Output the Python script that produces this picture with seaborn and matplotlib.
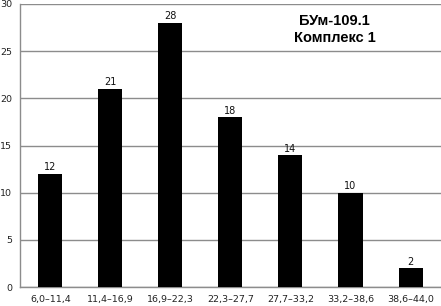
import numpy as np
import pandas as pd
import matplotlib.pyplot as plt
import seaborn as sns

# ── Data ──────────────────────────────────────────────────────
categories = ['6,0–11,4', '11,4–16,9', '16,9–22,3', '22,3–27,7',
              '27,7–33,2', '33,2–38,6', '38,6–44,0']
counts = [12, 21, 28, 18, 14, 10, 2]
y_ticks = [0, 5, 10, 15, 20, 25, 30]

df = pd.DataFrame({'interval': categories, 'count': counts})

# ── Plot ──────────────────────────────────────────────────────
sns.set_style('white')
plt.rcParams['font.family'] = ['DejaVu Sans']

fig = plt.figure(figsize=(4.41, 3.06), dpi=100)
ax = fig.add_axes([0.046, 0.062, 0.953, 0.925])

sns.barplot(data=df, x='interval', y='count', color='black',
            width=0.4, saturation=1, linewidth=0, ax=ax, zorder=3)

ax.set_ylim(0, 30)
ax.set_xlim(-0.5, len(categories) - 0.5)
ax.set_yticks(y_ticks)
ax.yaxis.grid(True, color='#8c8c8c', linewidth=1.0, zorder=0)
ax.set_axisbelow(True)

for s in ['top', 'right']:
    ax.spines[s].set_visible(False)
for s in ['left', 'bottom']:
    ax.spines[s].set_color('#8c8c8c')
    ax.spines[s].set_linewidth(1.0)

# minor ticks between categories on x
ax.set_xticks(np.arange(len(categories) + 1) - 0.5, minor=True)
ax.tick_params(axis='x', which='major', length=0, labelsize=6.8, pad=6,
               labelcolor='#222222')
ax.tick_params(axis='x', which='minor', length=4, color='#8c8c8c', width=1)
ax.tick_params(axis='y', length=4, color='#8c8c8c', labelsize=6.8, pad=2,
               labelcolor='#222222')
ax.set_xlabel('')
ax.set_ylabel('')

for i, v in enumerate(counts):
    ax.text(i, v + 0.15, str(v), ha='center', va='bottom', fontsize=7,
            color='#111111')

ax.text(0.748, 0.965, 'БУм-109.1\nКомплекс 1', transform=ax.transAxes,
        ha='center', va='top', fontsize=10.5, fontweight='bold',
        color='black', family=['Liberation Sans', 'DejaVu Sans'],
        linespacing=1.25)

plt.savefig('out.png', dpi=100)
plt.close()
